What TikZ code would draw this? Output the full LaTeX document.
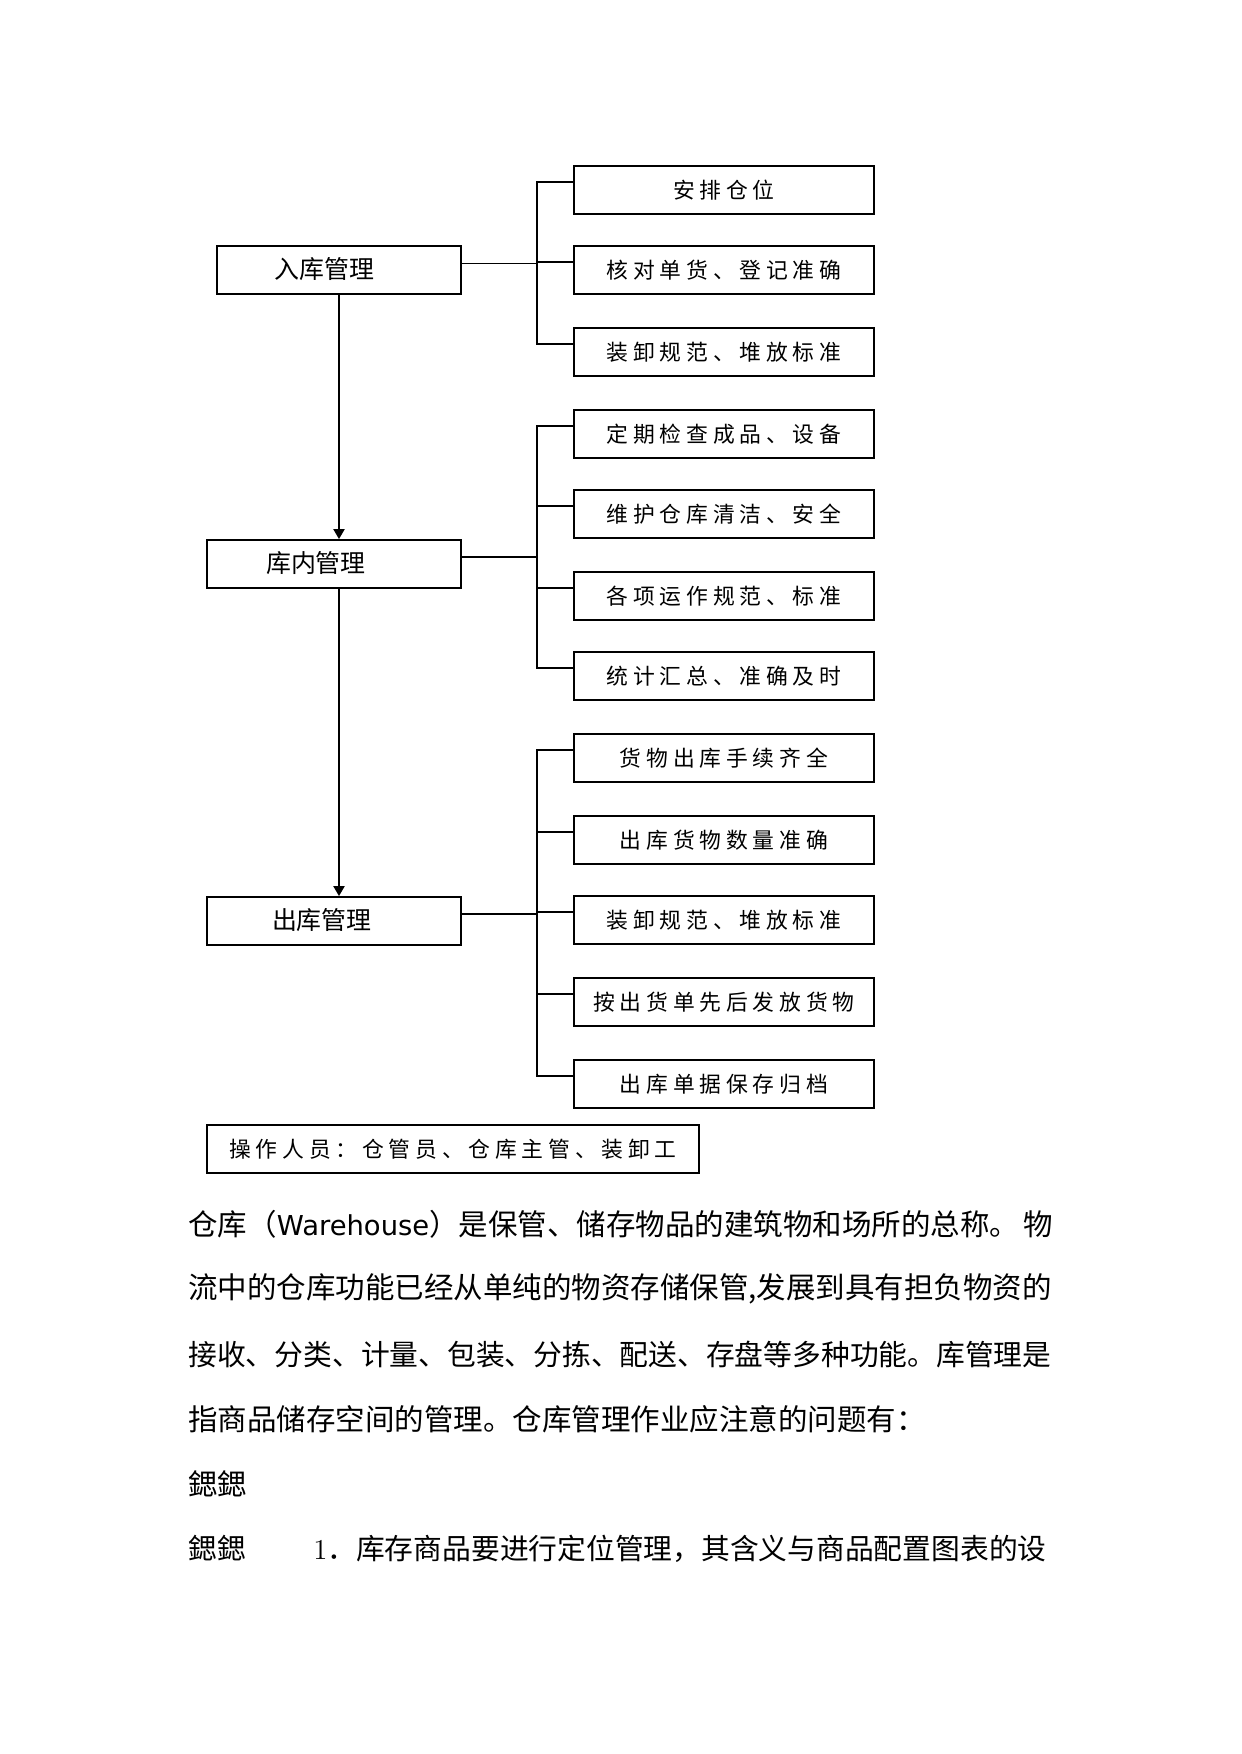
\documentclass[tikz,border=0pt]{standalone}
\usepackage{fontspec}
\newfontfamily\cjk{Noto Sans CJK SC}
\newfontfamily\cjkspaced[LetterSpace=22]{Noto Sans CJK SC}
\newfontfamily\latinsans{DejaVu Sans}
\usetikzlibrary{arrows.meta}
\XeTeXlinebreaklocale "zh"
\XeTeXlinebreakskip=0pt plus 1pt

\begin{document}
\begin{tikzpicture}[x=0.169218mm, y=-0.169218mm,
    titolo/.style={draw, line width=0.9pt, minimum height=8.12mm, inner sep=0pt,
        text width=#1, align=left, font=\cjk\fontsize{12}{14}\selectfont},
    voce/.style={draw, line width=0.9pt, minimum width=50.77mm, minimum height=8.12mm,
        inner sep=0pt, font=\cjkspaced\fontsize{10.5}{12}\selectfont},
    linea/.style={line width=0.8pt},
    freccia/.style={line width=0.8pt, -{Triangle[length=1.7mm, width=1.9mm]}},
    riga/.style={anchor=west, inner sep=0pt, font=\cjk\fontsize{14.2}{17}\selectfont}]
    \useasboundingbox (0,0) rectangle (1241,1754);
    %riquadri a sinistra
    \node[titolo=41.29mm] (rk) at (339,270) {\hspace*{9.8mm}\raisebox{0.6mm}{入库管理}};
    \node[titolo=42.98mm] (kn) at (334,564) {\hspace*{10mm}\raisebox{0.6mm}{库内管理}};
    \node[titolo=42.98mm] (ck) at (334,921) {\hspace*{11mm}\raisebox{0.6mm}{出库管理}};
    %voci a destra
    \node[voce] (rk1) at (724,190) {安排仓位};
    \node[voce] (rk2) at (724,270) {核对单货、登记准确};
    \node[voce] (rk3) at (724,352) {装卸规范、堆放标准};
    \node[voce] (kn1) at (724,434) {定期检查成品、设备};
    \node[voce] (kn2) at (724,514) {维护仓库清洁、安全};
    \node[voce] (kn3) at (724,596) {各项运作规范、标准};
    \node[voce] (kn4) at (724,676) {统计汇总、准确及时};
    \node[voce] (ck1) at (724,758) {货物出库手续齐全};
    \node[voce] (ck2) at (724,840) {出库货物数量准确};
    \node[voce] (ck3) at (724,920) {装卸规范、堆放标准};
    \node[voce] (ck4) at (724,1002) {按出货单先后发放货物};
    \node[voce] (ck5) at (724,1084) {出库单据保存归档};
    %operatori
    \node[voce, minimum width=83.26mm] (op) at (453,1149) {操作人员：仓管员、仓库主管、装卸工};
    %frecce
    \draw[freccia] (rk.south) -- (rk.south |- kn.north);
    \draw[freccia] (rk.south |- kn.south) -- (rk.south |- ck.north);
    %collegamenti
    \coordinate (j) at (537,0);
    \draw[linea] (rk.3.3) -- (rk.3.3 -| j);
    \draw[linea] (rk1.177) -- (rk1.177 -| j) -- (rk3.177 -| j) -- (rk3.177);
    \draw[linea] (rk2.177) -- (rk2.177 -| j);
    \draw[linea] (kn.3.6) -- (kn.3.6 -| j);
    \draw[linea] (kn1.177) -- (kn1.177 -| j) -- (kn4.177 -| j) -- (kn4.177);
    \draw[linea] (kn2.177) -- (kn2.177 -| j);
    \draw[linea] (kn3.177) -- (kn3.177 -| j);
    \draw[linea] (ck.3.6) -- (ck.3.6 -| j);
    \draw[linea] (ck1.177) -- (ck1.177 -| j) -- (ck5.177 -| j) -- (ck5.177);
    \draw[linea] (ck2.177) -- (ck2.177 -| j);
    \draw[linea] (ck3.177) -- (ck3.177 -| j);
    \draw[linea] (ck4.177) -- (ck4.177 -| j);
    %testo sotto
    \node[riga] (t1) at (188,1224) {\makebox[146.2mm][s]{仓库（{\latinsans\fontsize{13.2}{16}\selectfont Warehouse}）是保管、储存物品的建筑物和场所的总称。 物}};
    \node[riga] (t2) at (188,1289) {\makebox[146.2mm][s]{流中的仓库功能已经从单纯的物资存储保管,发展到具有担负物资的}};
    \node[riga, font=\cjk\fontsize{13.85}{17}\selectfont] (t3) at (188,1354) {接收、分类、计量、包装、分拣、配送、存盘等多种功能。库管理是};
    \node[riga] (t4) at (188,1419) {指商品储存空间的管理。仓库管理作业应注意的问题有：};
    \node[riga] (t5) at (188,1484) {鍶鍶};
    \node[riga, font=\cjk\fontsize{13.85}{17}\selectfont] (t6) at (188,1549) {鍶鍶\hspace*{11.4mm}{\rmfamily 1}．库存商品要进行定位管理，其含义与商品配置图表的设};
\end{tikzpicture}
\end{document}
